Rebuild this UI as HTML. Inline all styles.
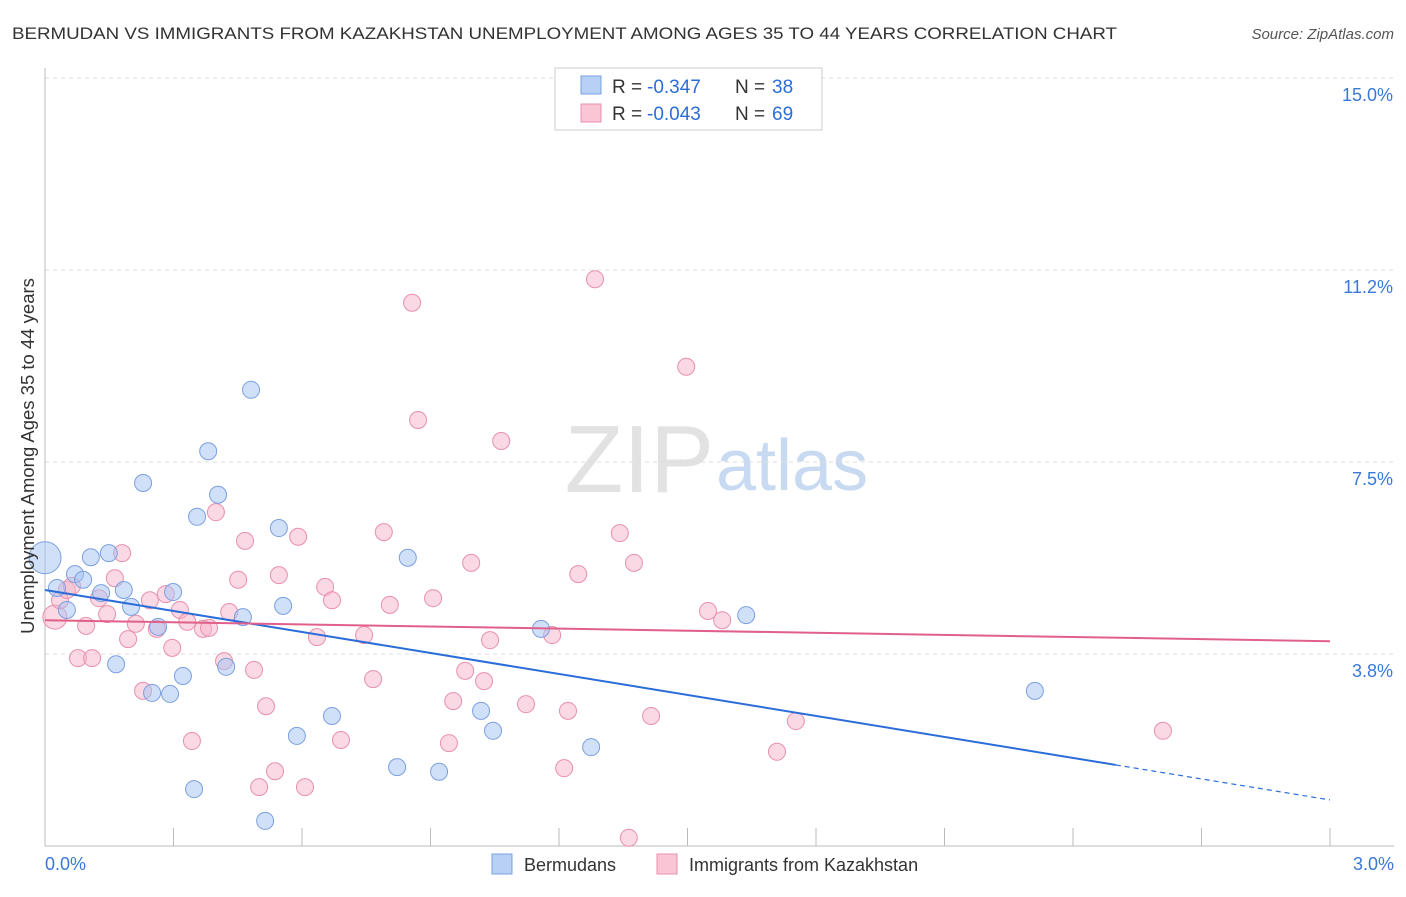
<!DOCTYPE html>
<html><head><meta charset="utf-8"><style>
body{margin:0;background:#fff;font-family:"Liberation Sans",sans-serif;}
svg text{font-family:"Liberation Sans",sans-serif;}
</style></head><body>
<svg id="c" width="1406" height="892">
<text x="12" y="39" font-size="17" fill="#333" textLength="1105" lengthAdjust="spacingAndGlyphs">BERMUDAN VS IMMIGRANTS FROM KAZAKHSTAN UNEMPLOYMENT AMONG AGES 35 TO 44 YEARS CORRELATION CHART</text>
<text x="1394" y="39" font-size="15" fill="#555" font-style="italic" text-anchor="end">Source: ZipAtlas.com</text>
<text x="714" y="492" font-size="96" fill="#e2e2e2" text-anchor="end" font-family="Liberation Serif">ZIP</text>
<text x="716" y="490" font-size="72" fill="#c8daf2">atlas</text>
<g id="grid"></g><g id="axes"></g><g id="pts"></g><g id="lines"></g>
<text transform="translate(34,456) rotate(-90)" font-size="18.5" fill="#333" text-anchor="middle">Unemployment Among Ages 35 to 44 years</text>
<g>
<rect x="555" y="68" width="267" height="62" fill="#fff" stroke="#ccc"/>
<rect x="581" y="76" width="20" height="18" fill="#b8d0f4" stroke="#7aa0e0"/>
<rect x="581" y="104" width="20" height="18" fill="#fac6d6" stroke="#e890aa"/>
<text x="612" y="93" font-size="19" fill="#333">R =</text>
<text x="647" y="93" font-size="19" fill="#2a6dd9">-0.347</text>
<text x="735" y="93" font-size="19" fill="#333">N =</text>
<text x="772" y="93" font-size="19" fill="#2a6dd9">38</text>
<text x="612" y="120" font-size="19" fill="#333">R =</text>
<text x="647" y="120" font-size="19" fill="#2a6dd9">-0.043</text>
<text x="735" y="120" font-size="19" fill="#333">N =</text>
<text x="772" y="120" font-size="19" fill="#2a6dd9">69</text>
</g>
<g>
<rect x="492" y="854" width="20" height="20" fill="#b8d0f4" stroke="#7aa0e0"/>
<text x="524" y="871" font-size="18" fill="#333">Bermudans</text>
<rect x="657" y="854" width="20" height="20" fill="#fac6d6" stroke="#e890aa"/>
<text x="689" y="871" font-size="18" fill="#333">Immigrants from Kazakhstan</text>
</g>
</svg>
<script>
const yTicks=[3.75,7.5,11.25,15];
const yTickLabels=["3.8%","7.5%","11.2%","15.0%"];
const xTickLabels=["0.0%","3.0%"];
const blueX=[0.000,0.028,0.051,0.070,0.089,0.107,0.131,0.149,0.184,0.201,0.166,0.229,0.250,0.264,0.292,0.299,0.322,0.348,0.355,0.381,0.404,0.423,0.462,0.481,0.514,0.546,0.556,0.588,0.670,0.822,0.847,0.920,1.018,1.046,1.158,1.275,1.637,2.311];
const blueY=[5.63,5.04,4.61,5.31,5.20,5.64,4.94,5.72,5.00,4.67,3.55,7.09,2.99,4.28,2.97,4.96,3.32,1.11,6.43,7.71,6.86,3.50,4.47,8.91,0.49,6.21,4.69,2.15,2.54,1.54,5.63,1.45,2.64,2.25,4.24,1.93,4.51,3.03];
const pinkX=[0.023,0.035,0.051,0.063,0.077,0.096,0.110,0.126,0.145,0.163,0.180,0.194,0.212,0.229,0.245,0.261,0.282,0.297,0.315,0.332,0.343,0.369,0.383,0.399,0.418,0.430,0.451,0.467,0.488,0.516,0.500,0.537,0.546,0.591,0.607,0.635,0.654,0.670,0.691,0.745,0.766,0.791,0.805,0.857,0.871,0.906,0.943,0.953,0.981,0.995,1.025,1.039,1.065,1.123,1.184,1.212,1.221,1.245,1.284,1.342,1.363,1.375,1.415,1.497,1.548,1.581,1.709,1.753,2.610];
const pinkY=[4.47,4.80,5.00,5.08,3.67,4.30,3.67,4.84,4.53,5.23,5.72,4.04,4.34,3.03,4.80,4.24,4.92,3.87,4.61,4.38,2.05,4.24,4.26,6.52,3.61,4.57,5.20,5.96,3.44,2.73,1.15,1.46,5.29,6.04,1.15,4.08,5.06,4.80,2.07,4.12,3.26,6.13,4.71,10.61,8.32,4.84,2.01,2.83,3.42,5.53,3.22,4.02,7.91,2.77,4.12,1.52,2.64,5.31,11.07,6.11,0.16,5.53,2.54,9.36,4.59,4.41,1.84,2.44,2.25];
const blueTrend=[5.0,0.90], blueSolidEnd=2.5, pinkTrend=[4.41,4.0];
const X=v=>45+v*428.33, Y=v=>846-v*51.2;
const NS="http://www.w3.org/2000/svg";
function mk(p,t,a){const e=document.createElementNS(NS,t);for(const k in a)e.setAttribute(k,a[k]);p.appendChild(e);return e;}
const grid=document.getElementById('grid'),axes=document.getElementById('axes'),pts=document.getElementById('pts'),lines=document.getElementById('lines');
yTicks.forEach((t,i)=>{
 const l=mk(grid,'line',{x1:45,x2:1394,y1:Y(t),y2:Y(t),stroke:'#ddd','stroke-dasharray':'4,4'});
 
 
 const tx=mk(axes,'text',{x:1393,y:Y(t)+23,'font-size':18,fill:'#3a78d8','text-anchor':'end'});
 tx.textContent=yTickLabels[i];
 
 
});
mk(axes,'line',{x1:45,x2:45,y1:68,y2:846,stroke:'#bbb'});
mk(axes,'line',{x1:45,x2:1394,y1:846,y2:846,stroke:'#bbb'});
for(let i=0;i<=10;i++){const x=X(i*0.3);const t=mk(axes,'line',{x1:x,x2:x,y1:828,y2:846,stroke:'#bbb'});
 
 }
[[0,'start',45],[3,'end',1394]].forEach((d,i)=>{const t=mk(axes,'text',{x:d[2],y:870,'font-size':18,fill:'#3a78d8','text-anchor':d[1]});t.textContent=xTickLabels[i];
 
 });
function dots(xs,ys,fill,stroke,name,big){xs.forEach((v,i)=>{const c=mk(pts,'circle',{cx:X(v),cy:Y(ys[i]),r:i===0?big:8.5,fill:fill,stroke:stroke,'stroke-width':1});
 
 });}
dots(pinkX,pinkY,'rgba(248,180,202,0.5)','#e890aa','kazakhstan-point',12);
dots(blueX,blueY,'rgba(164,194,244,0.5)','#7aa0e0','bermudan-point',16);
const by=x=>blueTrend[0]+(blueTrend[1]-blueTrend[0])*x/3;
const bl=mk(lines,'line',{x1:X(0),y1:Y(by(0)),x2:X(blueSolidEnd),y2:Y(by(blueSolidEnd)),stroke:'#2a6dd9','stroke-width':2});


const bd=mk(lines,'line',{x1:X(blueSolidEnd),y1:Y(by(blueSolidEnd)),x2:X(3),y2:Y(by(3)),stroke:'#2a6dd9','stroke-width':1.2,'stroke-dasharray':'5,4'});


const pl=mk(lines,'line',{x1:X(0),y1:Y(pinkTrend[0]),x2:X(3),y2:Y(pinkTrend[1]),stroke:'#e0608a','stroke-width':2});


</script>
</body></html>
